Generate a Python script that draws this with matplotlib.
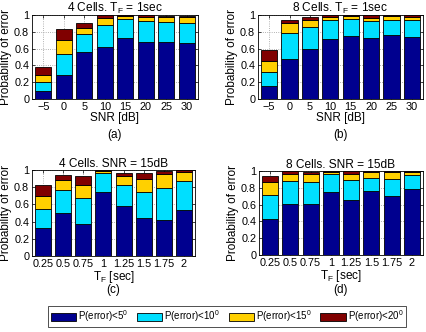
import matplotlib
matplotlib.use("Agg")
import matplotlib.pyplot as plt
import numpy as np

plt.rcParams['font.family'] = ['Liberation Sans', 'DejaVu Sans']
plt.rcParams['font.size'] = 7.8
plt.rcParams['mathtext.fontset'] = 'custom'
plt.rcParams['mathtext.rm'] = 'Liberation Sans'
plt.rcParams['mathtext.it'] = 'Liberation Sans'

snr_labels = ['\u22125', '0', '5', '10', '15', '20', '25', '30']
tf_labels = ['0.25', '0.5', '0.75', '1', '1.25', '1.5', '1.75', '2']

# cumulative probabilities P(error)<5,10,15,20 deg
a_lt5 = [0.10, 0.28, 0.56, 0.62, 0.73, 0.68, 0.68, 0.67]
a_lt10 = [0.20, 0.54, 0.77, 0.88, 0.95, 0.93, 0.92, 0.90]
a_lt15 = [0.28, 0.70, 0.85, 0.97, 0.99, 0.98, 0.98, 0.98]
a_lt20 = [0.38, 0.83, 0.91, 0.995, 1.0, 1.0, 0.99, 0.985]

b_lt5 = [0.16, 0.48, 0.60, 0.72, 0.75, 0.73, 0.76, 0.74]
b_lt10 = [0.32, 0.79, 0.86, 0.94, 0.95, 0.93, 0.94, 0.94]
b_lt15 = [0.45, 0.90, 0.94, 0.98, 0.99, 0.97, 0.99, 0.98]
b_lt20 = [0.58, 0.94, 0.98, 1.0, 1.0, 1.0, 1.0, 1.0]

c_lt5 = [0.33, 0.50, 0.37, 0.74, 0.58, 0.44, 0.42, 0.53]
c_lt10 = [0.55, 0.77, 0.67, 0.96, 0.82, 0.75, 0.79, 0.87]
c_lt15 = [0.70, 0.88, 0.83, 0.99, 0.93, 0.89, 0.95, 0.98]
c_lt20 = [0.83, 0.94, 0.93, 1.0, 0.97, 0.96, 0.99, 1.0]

d_lt5 = [0.43, 0.61, 0.61, 0.75, 0.66, 0.76, 0.70, 0.78]
d_lt10 = [0.72, 0.88, 0.87, 0.96, 0.89, 0.92, 0.90, 0.95]
d_lt15 = [0.87, 0.96, 0.96, 0.99, 0.97, 0.99, 0.99, 0.99]
d_lt20 = [0.94, 1.0, 0.99, 1.0, 1.0, 1.0, 1.0, 1.0]

colors = ['#00008F', '#00DFFF', '#FFD000', '#800000']
legend_labels = ['P(error)<5$^0$', 'P(error)<10$^0$', 'P(error)<15$^0$', 'P(error)<20$^0$']

fig = plt.figure(figsize=(4.27, 3.32), dpi=100)
W, H = 427, 332

def ax_at(l, t, r, b):
    return fig.add_axes([l / W, 1 - b / H, (r - l) / W, (b - t) / H])

panels = [
    (ax_at(32, 15, 198, 99), [a_lt5, a_lt10, a_lt15, a_lt20], snr_labels,
     '4 Cells. T$_F$ = 1sec', 'SNR [dB]', '(a)', (115, 135)),
    (ax_at(258, 15, 423, 99), [b_lt5, b_lt10, b_lt15, b_lt20], snr_labels,
     '8 Cells. T$_F$ = 1sec', 'SNR [dB]', '(b)', (341, 135)),
    (ax_at(32, 170, 195, 256), [c_lt5, c_lt10, c_lt15, c_lt20], tf_labels,
     '4 Cells. SNR = 15dB', 'T$_F$ [sec]', '(c)', (113, 290)),
    (ax_at(259, 171, 423, 255), [d_lt5, d_lt10, d_lt15, d_lt20], tf_labels,
     '8 Cells. SNR = 15dB', 'T$_F$ [sec]', '(d)', (341, 290)),
]

handles = None
for ax, series, labels, title, xlabel, tag, tagpos in panels:
    x = np.arange(1, len(labels) + 1)
    prev = np.zeros(len(labels))
    hs = []
    for s, c in zip(series, colors):
        s = np.array(s)
        h = ax.bar(x, s - prev, bottom=prev, width=0.8, color=c,
                   edgecolor='black', linewidth=0.6, zorder=3)
        hs.append(h)
        prev = s
    handles = hs
    ax.set_xlim(0.45, 8.55)
    ax.set_ylim(0, 1)
    ax.set_xticks(x)
    ax.set_xticklabels(labels)
    ax.set_yticks([0, 0.2, 0.4, 0.6, 0.8, 1])
    ax.set_yticklabels(['0', '0.2', '0.4', '0.6', '0.8', '1'])
    ax.tick_params(direction='in', length=2, width=0.5, pad=2, top=True, right=True)
    ax.grid(True, linestyle=':', color='#999999', linewidth=0.6, zorder=0)
    for sp in ax.spines.values():
        sp.set_linewidth(0.6)
    ax.set_title(title, pad=2, fontsize=8.6)
    ax.set_ylabel('Probability of error', labelpad=1.5, fontsize=8.5)
    ax.set_xlabel(xlabel, labelpad=0, fontsize=8.5)
    fig.text(tagpos[0] / W, 1 - tagpos[1] / H, tag, ha='center', va='center', fontsize=8.5)

leg = fig.legend([h[0] for h in handles], legend_labels, loc='center',
                 bbox_to_anchor=(227 / W, 1 - 316.5 / H), ncol=4, frameon=True,
                 fancybox=False, edgecolor='black', fontsize=7,
                 handlelength=2.6, handleheight=1.0, handletextpad=0.2,
                 columnspacing=0.9, borderpad=0.25, borderaxespad=0)
leg.get_frame().set_linewidth(0.6)

fig.savefig('out.png', dpi=100)
